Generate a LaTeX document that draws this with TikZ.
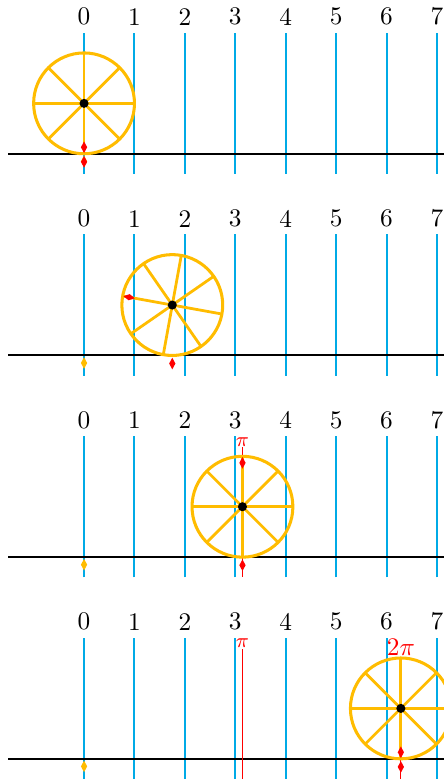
\documentclass[tikz,border=0pt]{standalone}
\usetikzlibrary{calc}
\definecolor{wheelc}{RGB}{255,188,0}
\definecolor{gridc}{RGB}{0,170,230}
\tikzset{
  gridline/.style={gridc, line width=0.8pt},
  groundline/.style={black, line width=0.8pt},
  rimline/.style={wheelc, line width=1.2pt},
  spokeline/.style={wheelc, line width=1.1pt},
  markline/.style={red, line width=0.4pt},
  ticklab/.style={above, inner sep=2.5pt, text=black},
  pilab/.style={red, anchor=north, inner sep=0.3pt},
}
% diamond marker: colour, position, direction angle
\newcommand\diamark[3]{\fill[#1, shift={#2}, rotate=#3] (0.115,0) -- (0,0.062) -- (-0.115,0) -- (0,-0.062) -- cycle;}
% wheel: centre x, ground y, rotation (deg)
\newcommand\rollwheel[3]{%
  \begin{scope}[shift={(#1,#2+1)}]
    \draw[rimline] (0,0) circle (1);
    \foreach \a in {0,45,90,135}{\draw[spokeline] (\a+#3:1) -- (\a+180+#3:1);}
    \fill[black] (0,0) circle (0.09);
    \diamark{red}{(-90+#3:0.87)}{-90+#3}
  \end{scope}}
\begin{document}
\begin{tikzpicture}[x=0.7cm,y=0.7cm]
\useasboundingbox (-1.667,-12.42) rectangle (7.119,3.05);
\foreach \p in {0,1,2,3}{
  \begin{scope}[shift={(0,-4*\p)}]
    \foreach \i in {0,...,7}{
      \draw[gridline] (\i,-0.4) coordinate (b\p\i) -- (\i,2.4) node[ticklab] (t\p\i) {\i};
    }
    \draw[groundline] (-1.5,0) coordinate (gl\p) -- (7.6,0) coordinate (gr\p);
    \diamark{wheelc}{(0,-0.15)}{90}
  \end{scope}
}
% panel 3 red line at pi
\node[pilab, font=\footnotesize] (pia) at ({pi},-5.6) {$\pi$};
\coordinate (pia0) at ({pi},-8.4);
\draw[markline] (pia.south) -- (pia0);
% panel 4 red lines at pi and 2pi
\node[pilab, font=\footnotesize] (pib) at ({pi},-9.6) {$\pi$};
\coordinate (pib0) at ({pi},-12.4);
\draw[markline] (pib.south) -- (pib0);
\node[pilab] (tpi) at ({2*pi},-9.6) {$2\pi$};
\coordinate (tpi0) at ({2*pi},-12.4);
\draw[markline] (tpi.south) -- (tpi0);
% wheels
\rollwheel{0}{0}{0}
\diamark{red}{(0,-0.16)}{90}
\rollwheel{1.75}{-4}{-100.27}
\diamark{red}{(1.75,-4.16)}{90}
\rollwheel{{pi}}{-8}{-180}
\diamark{red}{({pi},-8.16)}{90}
\rollwheel{{2*pi}}{-12}{-360}
\diamark{red}{({2*pi},-12.16)}{90}
\end{tikzpicture}
\end{document}
